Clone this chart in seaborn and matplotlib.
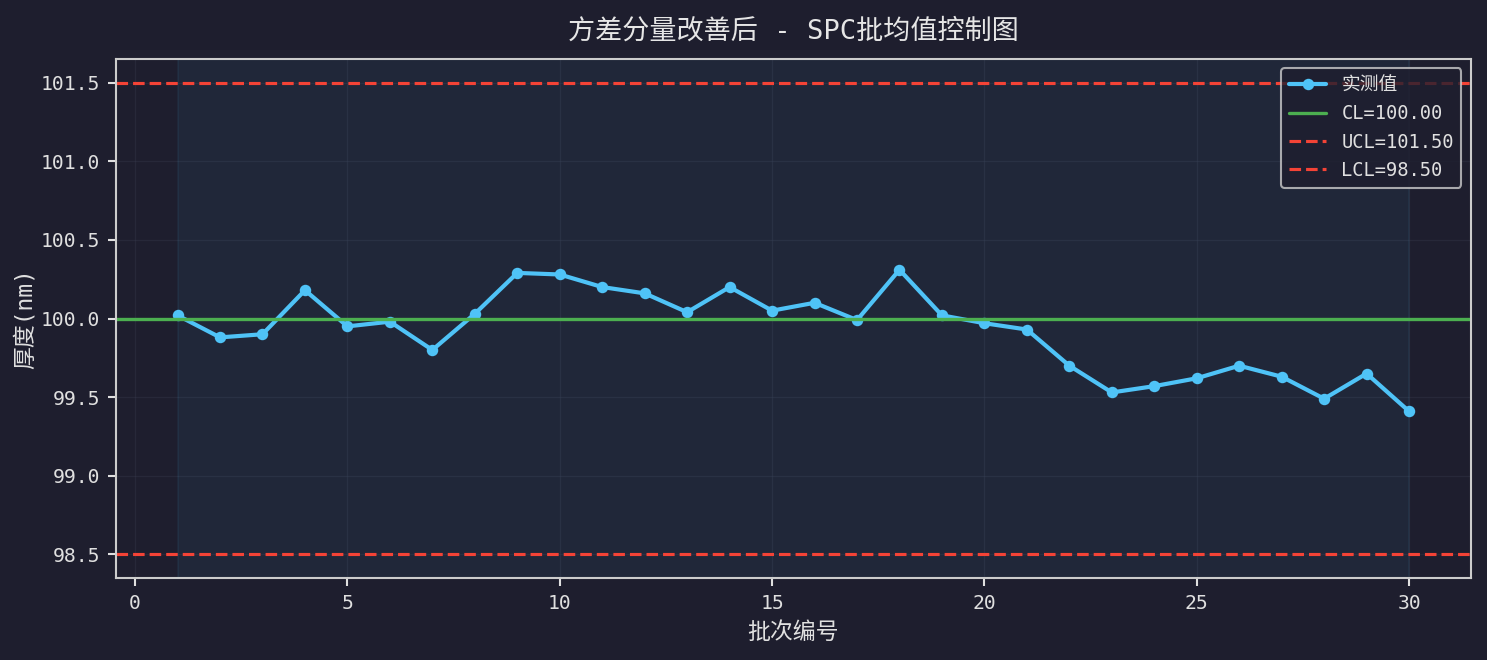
import numpy as np
import pandas as pd
import matplotlib
matplotlib.use('Agg')
import matplotlib.pyplot as plt
import seaborn as sns

# Données : moyenne par lot après amélioration
batch = list(range(1, 31))
thickness = [100.02, 99.88, 99.90, 100.18, 99.95, 99.98, 99.80, 100.03, 100.29, 100.28,
             100.20, 100.16, 100.04, 100.20, 100.05, 100.10, 99.99, 100.31, 100.02, 99.97,
             99.93, 99.70, 99.53, 99.57, 99.62, 99.70, 99.63, 99.49, 99.65, 99.41]
cl = 100.00
ucl = 101.50
lcl = 98.50

bg = '#1e1e2e'
fg = '#e0e0e0'

sns.set_theme(style='dark', rc={
    'figure.facecolor': bg,
    'axes.facecolor': bg,
    'axes.edgecolor': '#cccccc',
    'axes.labelcolor': fg,
    'text.color': fg,
    'xtick.color': fg,
    'ytick.color': fg,
    'grid.color': '#3a3d50',
    'axes.grid': True,
    'xtick.bottom': True,
    'ytick.left': True,
})
plt.rcParams['font.family'] = ['DejaVu Sans Mono', 'Noto Sans CJK SC']
plt.rcParams['axes.unicode_minus'] = False

df = pd.DataFrame({'批次': batch, '厚度': thickness})

fig, ax = plt.subplots(figsize=(1487 / 150, 660 / 150), dpi=150)
fig.subplots_adjust(left=0.078, right=0.989, top=0.9106, bottom=0.1242)

ax.axvspan(batch[0], batch[-1], color='#4fc3f7', alpha=0.06)
sns.lineplot(data=df, x='批次', y='厚度', ax=ax, color='#4fc3f7', linewidth=2,
             marker='o', markersize=5.5, markeredgewidth=0, label='实测值')
ax.axhline(cl, color='#4caf50', linewidth=1.6, label=f'CL={cl:.2f}')
ax.axhline(ucl, color='#f44336', linewidth=1.5, linestyle='--', label=f'UCL={ucl:.2f}')
ax.axhline(lcl, color='#f44336', linewidth=1.5, linestyle='--', label=f'LCL={lcl:.2f}')

ax.set_xlim(-0.45, 31.45)
ax.set_ylim(98.35, 101.65)
ax.set_xticks([0, 5, 10, 15, 20, 25, 30])
ax.set_yticks([98.5, 99.0, 99.5, 100.0, 100.5, 101.0, 101.5])
ax.yaxis.set_major_formatter(matplotlib.ticker.FormatStrFormatter('%.1f'))
ax.tick_params(labelsize=9.5, length=4, width=1, colors=fg)
ax.grid(True, alpha=0.35, linewidth=0.6)
for s in ax.spines.values():
    s.set_color('#cccccc')
    s.set_linewidth(1)

ax.set_title('方差分量改善后 - SPC批均值控制图', fontsize=13, color='#e6e6e6', pad=10)
ax.set_xlabel('批次编号', fontsize=11)
ax.set_ylabel('厚度(nm)', fontsize=11, labelpad=2)

leg = ax.legend(loc='upper right', fontsize=9, facecolor=bg, edgecolor='#cccccc',
                framealpha=0.8, labelcolor=fg)
leg.get_frame().set_linewidth(1)

fig.savefig('out.png', dpi=150, facecolor=bg)
